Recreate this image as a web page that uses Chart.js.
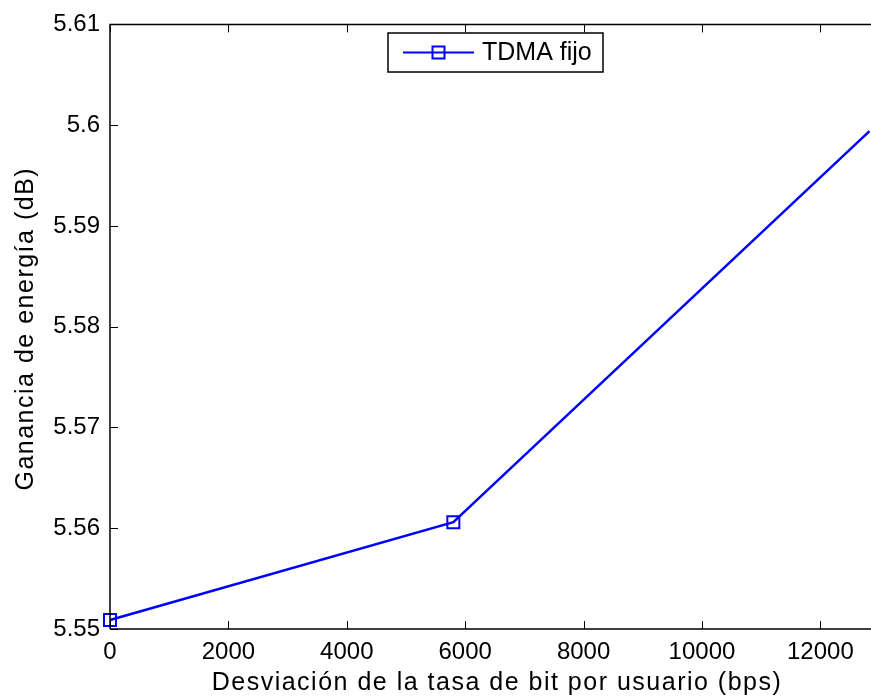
<!DOCTYPE html>
<html>
<head>
<meta charset="utf-8">
<script src="https://cdn.jsdelivr.net/npm/chart.js@4.4.0/dist/chart.umd.min.js"></script>
<style>
  html, body { margin: 0; padding: 0; background: #fff; overflow: hidden; }
  #wrap { width: 880px; height: 700px; position: relative; }
</style>
</head>
<body>
<div id="wrap"><canvas id="grafico"></canvas></div>
<script>
// Datos
const seriesLabel = 'TDMA fijo';
const xValues = [0, 5800, 12830];
const yValues = [5.5509, 5.5606, 5.5994];
const xTicks = [0, 2000, 4000, 6000, 8000, 10000, 12000];
const yTicks = [5.55, 5.56, 5.57, 5.58, 5.59, 5.6, 5.61];
const xTitle = 'Desviación de la tasa de bit por usuario (bps)';
const yTitle = 'Ganancia de energía (dB)';

const FONT = "'Liberation Sans', Arial, Helvetica, sans-serif";
const BLUE = '#0000ff';

// Caja estilo MATLAB con marcas hacia dentro, titulos y leyenda
const boxPlugin = {
    id: 'boxPlugin',
    afterDraw(chart) {
        const { ctx, chartArea: a, scales } = chart;
        ctx.save();
        ctx.strokeStyle = '#000';
        ctx.lineWidth = 1.5;
        ctx.beginPath();
        ctx.moveTo(a.left, a.bottom);
        ctx.lineTo(a.left, a.top);
        ctx.lineTo(a.right + 2, a.top);
        ctx.moveTo(a.left, a.bottom);
        ctx.lineTo(a.right + 2, a.bottom);
        ctx.stroke();

        ctx.lineWidth = 1;
        ctx.beginPath();
        xTicks.forEach(v => {
            const px = Math.round(scales.x.getPixelForValue(v)) + 0.5;
            ctx.moveTo(px, a.bottom);
            ctx.lineTo(px, a.bottom - 8);
            ctx.moveTo(px, a.top);
            ctx.lineTo(px, a.top + 8);
        });
        yTicks.forEach(v => {
            const py = Math.round(scales.y.getPixelForValue(v)) + 0.5;
            ctx.moveTo(a.left, py);
            ctx.lineTo(a.left + 8, py);
        });
        ctx.stroke();

        // Titulos de los ejes
        ctx.fillStyle = '#000';
        ctx.font = '25px ' + FONT;
        ctx.letterSpacing = '1.5px';
        ctx.textAlign = 'center';
        ctx.textBaseline = 'alphabetic';
        ctx.fillText(xTitle, 497, 690);
        ctx.save();
        ctx.translate(33, (a.top + a.bottom) / 2 + 2);
        ctx.rotate(-Math.PI / 2);
        ctx.fillText(yTitle, 0, 0);
        ctx.restore();
        ctx.letterSpacing = '0px';

        // Leyenda
        const bx = 388, by = 33, bw = 215, bh = 39;
        ctx.fillStyle = '#fff';
        ctx.fillRect(bx, by, bw, bh);
        ctx.strokeStyle = '#000';
        ctx.lineWidth = 1.5;
        ctx.strokeRect(bx, by, bw, bh);
        const ly = by + bh / 2;
        ctx.strokeStyle = BLUE;
        ctx.lineWidth = 2;
        ctx.beginPath();
        ctx.moveTo(403, ly);
        ctx.lineTo(474, ly);
        ctx.stroke();
        ctx.strokeRect(438.5 - 6, ly - 6, 12, 12);
        ctx.fillStyle = '#000';
        ctx.font = '25px ' + FONT;
        ctx.textBaseline = 'alphabetic';
        ctx.textAlign = 'left';
        ctx.fillText(chart.data.datasets[0].label, 482, 60);
        ctx.restore();
    }
};

const ctx = document.getElementById('grafico').getContext('2d');
new Chart(ctx, {
    type: 'line',
    data: {
        datasets: [{
            label: seriesLabel,
            data: xValues.map((x, i) => ({ x: x, y: yValues[i] })),
            borderColor: BLUE,
            borderWidth: 2.5,
            pointStyle: 'rect',
            pointRadius: [8.5, 8.5, 0],
            pointBorderWidth: 2,
            pointBorderColor: BLUE,
            pointBackgroundColor: 'rgba(0,0,0,0)',
            tension: 0,
            clip: false
        }]
    },
    options: {
        responsive: true,
        maintainAspectRatio: false,
        animation: false,
        layout: { padding: { top: 21, right: 0, left: 0, bottom: 0 } },
        plugins: {
            legend: { display: false },
            tooltip: { enabled: false }
        },
        scales: {
            x: {
                type: 'linear',
                min: 0,
                max: 12830,
                afterBuildTicks: s => { s.ticks = xTicks.map(v => ({ value: v })); },
                afterFit: s => { s.height = 71; },
                grid: { display: false, drawTicks: false },
                border: { display: false },
                ticks: {
                    color: '#000',
                    font: { family: FONT, size: 24 },
                    padding: 9,
                    maxRotation: 0,
                    autoSkip: false,
                    callback: v => String(v)
                },
                title: { display: false }
            },
            y: {
                min: 5.55,
                max: 5.61,
                afterBuildTicks: s => { s.ticks = yTicks.map(v => ({ value: v })); },
                afterFit: s => { s.width = 110; },
                grid: { display: false, drawTicks: false },
                border: { display: false },
                ticks: {
                    color: '#000',
                    font: { family: FONT, size: 24 },
                    padding: 10,
                    autoSkip: false,
                    callback: v => String(parseFloat(v.toFixed(2)))
                },
                title: { display: false }
            }
        }
    },
    plugins: [boxPlugin]
});
</script>
</body>
</html>
